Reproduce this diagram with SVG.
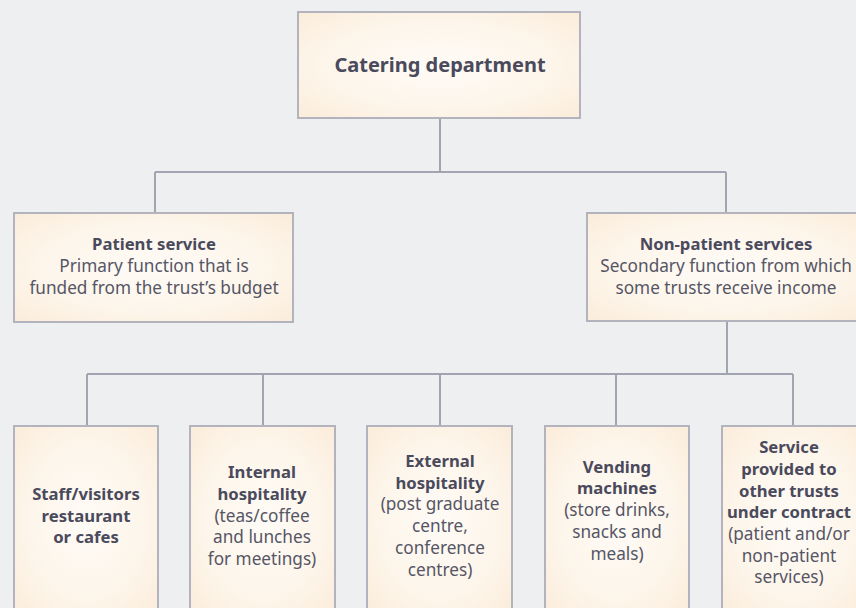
<svg xmlns="http://www.w3.org/2000/svg" width="856" height="608" viewBox="0 0 856 608">
  <style>
    .box { fill: url(#cream); stroke: #b2b3bc; stroke-width: 2; }
    .link { fill: none; stroke: #a2a4b2; stroke-width: 2; }
    text { font-family: "Noto Sans", "Open Sans", "Liberation Sans", sans-serif; fill: #555565; text-anchor: middle; font-size: 17.2px; }
    .b { font-weight: bold; fill: #4a4a5c; font-size: 16.7px; }
    .title { font-size: 20px; }
  </style>
  <defs>
    <radialGradient id="cream" cx="50%" cy="50%" r="70%">
      <stop offset="0" stop-color="#fefbf6"/>
      <stop offset="0.6" stop-color="#fdf5ea"/>
      <stop offset="1" stop-color="#fbecda"/>
    </radialGradient>
  </defs>

  <rect width="856" height="608" fill="#eeeff1"/>

  <!-- connectors -->
  <g id="connectors">
    <path class="link" d="M440 118 V172 M155 172 H726 M155 172 V213 M726 172 V213"/>
    <path class="link" d="M727 321 V374 M87 374 H793 M87 374 V426 M263 374 V426 M440 374 V426 M616 374 V426 M793 374 V426"/>
  </g>

  <g id="catering">
    <rect class="box" x="298" y="12" width="282" height="106"/>
    <text class="b title" x="440" y="72">Catering department</text>
  </g>

  <g id="patient">
    <rect class="box" x="14" y="213" width="279" height="109"/>
    <text class="b" x="154" y="250">Patient service</text>
    <text x="154" y="272">Primary function that is</text>
    <text x="154" y="294">funded from the trust’s budget</text>
  </g>

  <g id="non-patient">
    <rect class="box" x="587" y="213" width="280" height="108"/>
    <text class="b" x="726" y="250">Non-patient services</text>
    <text x="726" y="272">Secondary function from which</text>
    <text x="726" y="294">some trusts receive income</text>
  </g>

  <g id="staff-visitors">
    <rect class="box" x="14" y="426" width="144" height="190"/>
    <text class="b" x="86" y="500">Staff/visitors</text>
    <text class="b" x="86" y="522">restaurant</text>
    <text class="b" x="86" y="543">or cafes</text>
  </g>

  <g id="internal">
    <rect class="box" x="190" y="426" width="145" height="190"/>
    <text class="b" x="262" y="478">Internal</text>
    <text class="b" x="262" y="500">hospitality</text>
    <text x="262" y="522">(teas/coffee</text>
    <text x="262" y="543">and lunches</text>
    <text x="262" y="565">for meetings)</text>
  </g>

  <g id="external">
    <rect class="box" x="367" y="426" width="145" height="190"/>
    <text class="b" x="440" y="467">External</text>
    <text class="b" x="440" y="489">hospitality</text>
    <text x="440" y="510">(post graduate</text>
    <text x="440" y="532">centre,</text>
    <text x="440" y="554">conference</text>
    <text x="440" y="576">centres)</text>
  </g>

  <g id="vending">
    <rect class="box" x="545" y="426" width="144" height="190"/>
    <text class="b" x="617" y="473">Vending</text>
    <text class="b" x="617" y="494">machines</text>
    <text x="617" y="516">(store drinks,</text>
    <text x="617" y="538">snacks and</text>
    <text x="617" y="560">meals)</text>
  </g>

  <g id="other-trusts">
    <rect class="box" x="722" y="426" width="146" height="190"/>
    <text class="b" x="789" y="453">Service</text>
    <text class="b" x="789" y="475">provided to</text>
    <text class="b" x="789" y="497">other trusts</text>
    <text class="b" x="789" y="518">under contract</text>
    <text x="789" y="540">(patient and/or</text>
    <text x="789" y="562">non-patient</text>
    <text x="789" y="583">services)</text>
  </g>
</svg>
